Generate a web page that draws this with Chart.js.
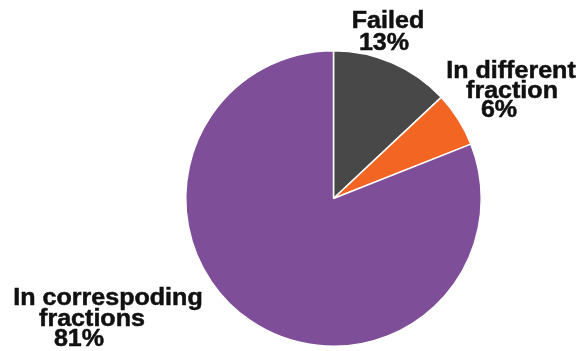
<!DOCTYPE html>
<html>
<head>
<meta charset="utf-8">
<script src="https://cdn.jsdelivr.net/npm/chart.js@4.4.0/dist/chart.umd.min.js"></script>
<style>
  html, body { margin: 0; padding: 0; background: #ffffff; }
  #wrap { width: 584px; height: 351px; position: relative; }
</style>
</head>
<body>
<div id="wrap"><canvas id="c"></canvas></div>
<script>
// Outcome of the samples, in percent of all runs
const categories = ['Failed', 'In different fraction', 'In correspoding fractions'];
const shares = [13, 6, 81];
const labelLines = [['Failed'], ['In different', 'fraction'], ['In correspoding', 'fractions']];
const sliceColors = ['#484848', '#f26522', '#7f4e98'];

// Where each slice's caption sits: centre x of every line, baseline of first line, line step
const captionLayout = [
  { xs: [388, 384], y: 28, step: 22 },
  { xs: [511, 512, 499], y: 78, step: 19.5 },
  { xs: [108, 92, 79], y: 305, step: 20.5 }
];

const captions = {
  id: 'captions',
  afterDraw(chart) {
    const ctx = chart.ctx;
    const values = chart.data.datasets[0].data;
    ctx.save();
    ctx.fillStyle = '#111111';
    ctx.strokeStyle = '#111111';
    ctx.lineWidth = 0.5;
    ctx.font = 'bold 23px "Liberation Sans", Arial, sans-serif';
    ctx.textAlign = 'center';
    ctx.textBaseline = 'alphabetic';
    captionLayout.forEach((pos, i) => {
      const lines = labelLines[i].concat([values[i] + '%']);
      lines.forEach((txt, k) => {
        ctx.save();
        ctx.translate(pos.xs[k], pos.y + k * pos.step);
        ctx.scale(1.09, 1);
        ctx.fillText(txt, 0, 0);
        ctx.strokeText(txt, 0, 0);
        ctx.restore();
      });
    });
    ctx.restore();
  }
};

new Chart(document.getElementById('c'), {
  type: 'pie',
  data: {
    labels: categories,
    datasets: [{
      data: shares,
      backgroundColor: sliceColors,
      borderColor: '#ffffff',
      borderWidth: 1.5
    }]
  },
  options: {
    responsive: true,
    maintainAspectRatio: false,
    animation: false,
    layout: { padding: { left: 185, right: 102, top: 50, bottom: 4 } },
    plugins: {
      legend: { display: false },
      tooltip: { enabled: false }
    }
  },
  plugins: [captions]
});
</script>
</body>
</html>
